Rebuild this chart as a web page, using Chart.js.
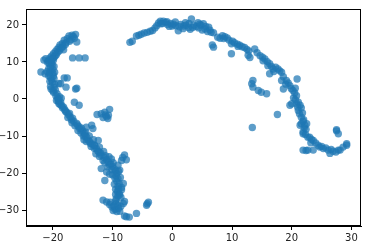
<!DOCTYPE html>
<html>
<head>
<meta charset="utf-8">
<script src="https://cdn.jsdelivr.net/npm/chart.js@4"></script>
<style>
    html, body { margin: 0; padding: 0; background: #fff; }
    #wrap { width: 374px; height: 252px; }
</style>
</head>
<body>
<div id="wrap"><canvas id="scatterChart"></canvas></div>
<script>
// nilai (perkiraan)
const xTicks = [-20, -10, 0, 10, 20, 30];
const yTicks = [-30, -20, -10, 0, 10, 20];

const leftArm = [
    [-16.2,17.4],[-16.8,17.2],[-17.3,17.0],[-16.0,15.4],[-16.4,16.4],[-17.0,16.0],[-17.6,16.3],[-18.1,15.9],
    [-17.8,15.2],[-18.4,15.0],[-18.8,14.6],[-18.3,14.2],[-19.0,13.9],[-19.3,13.4],[-18.9,13.0],[-18.2,13.3],
    [-19.6,12.8],[-19.9,12.2],[-19.4,12.0],[-20.2,11.6],[-20.5,11.1],[-19.8,11.3],[-21.5,10.5],[-21.2,10.9],
    [-20.8,10.3],[-20.3,10.0],[-19.9,10.5],[-20.6,9.5],[-20.1,9.2],[-20.4,8.6],[-19.8,8.8],[-22.0,7.3],
    [-21.3,6.8],[-21.0,7.4],[-20.3,7.6],[-20.0,6.9],[-20.4,5.9],[-19.9,6.2],[-20.2,5.2],[-20.1,4.5],
    [-19.7,4.0],[-20.4,3.4],[-20.3,2.7],[-19.6,2.5],[-19.9,1.8],[-19.5,0.9],[-19.2,0.2],[-19.4,-0.4],
    [-18.9,0.6],[-19.1,-0.6],[-18.7,-0.9],[-18.6,0.2],[-19.0,-1.2],[-18.5,-1.8],[-18.4,-2.4],[-18.0,-2.9],
    [-17.7,-3.6],[-17.4,-4.2],[-17.1,-4.8],[-16.9,-5.6],[-16.5,-6.0],[-16.0,-6.6],[-16.3,-7.2],[-15.6,-7.5],
    [-15.5,-8.0],[-15.8,-8.5],[-15.0,-8.6],[-14.7,-9.3],[-14.5,-9.0],[-14.9,-10.0],[-14.3,-10.4],[-13.9,-10.0],
    [-14.1,-11.1],[-14.8,-11.0],[-13.2,-11.0],[-13.8,-11.6],[-13.4,-12.2],[-13.6,-12.8],[-13.0,-12.6],[-12.2,-13.0],
    [-12.7,-13.4],[-12.5,-14.0],[-11.5,-14.2],[-12.8,-14.8],[-12.0,-14.6],[-11.9,-15.2],[-11.4,-15.8],[-10.6,-15.6],
    [-11.6,-16.6],[-10.2,-16.2],[-11.0,-16.4],[-10.7,-17.0],[-9.9,-17.2],[-10.3,-17.6],[-10.8,-18.4],[-10.0,-18.2],
    [-9.7,-18.8],[-9.0,-19.6],[-9.5,-19.4],[-9.3,-20.1],[-10.0,-20.5],[-9.4,-20.8],[-8.7,-21.2],[-9.1,-21.5],
    [-9.3,-22.2],[-9.7,-23.0],[-8.9,-22.9],[-9.1,-23.6],[-8.5,-23.9],[-9.0,-24.3],[-9.2,-25.0],[-8.9,-25.6],
    [-9.5,-25.8],[-9.1,-26.2],[-8.6,-26.6],[-9.4,-27.0]
];

// titik tambahan di bagian pita yang paling padat
const leftArmDense = [
    [-16.6,16.9],[-17.2,15.6],[-17.9,14.7],[-18.6,13.7],[-19.2,12.6],[-19.6,11.6],[-20.0,10.9],[-20.4,10.6],
    [-20.9,9.9],[-20.2,9.8],[-20.7,8.2],[-20.0,8.0],[-20.6,7.0],[-19.7,7.2],[-20.7,6.3],[-19.8,5.5],
    [-20.5,4.8],[-19.8,3.2],[-20.0,2.2],[-19.3,1.4],[-19.0,-0.2],[-18.8,-1.5],[-18.2,-2.2],[-17.9,-3.3],
    [-17.2,-3.9],[-17.5,-5.0],[-16.7,-5.2],[-16.8,-6.4],[-15.9,-7.0],[-15.2,-7.9],[-15.3,-9.2],[-14.6,-9.9],
    [-14.4,-11.5],[-13.7,-12.0],[-13.1,-13.3],[-12.3,-14.3],[-12.2,-15.5],[-11.2,-15.3],[-11.3,-17.2],[-10.5,-17.8],
    [-10.1,-19.1],[-9.6,-21.4],[-9.5,-24.4],[-9.4,-28.2],[-10.4,-27.9],[-9.9,-30.1]
];

const leftSide = [
    [-16.7,11.1],[-15.6,11.1],[-14.6,11.1],[-18.1,5.7],[-17.6,5.7],[-18.7,4.1],[-17.8,3.2],[-16.2,2.7],
    [-16.0,2.9],[-16.4,-0.9],[-15.6,-1.7],[-19.0,4.2],
    [-13.5,-7.1],[-13.3,-8.0],[-14.4,-7.6],[-12.4,-11.2],[-13.0,-12.5],
    [-8.0,-15.1],[-7.7,-16.4],[-8.5,-16.6],[-8.3,-15.8],[-11.9,-18.8],[-11.0,-19.7],[-11.3,-22.0],
    [-10.5,-20.3],[-9.1,-17.9],[-8.8,-19.2],[-8.2,-22.8],[-8.5,-24.5],[-8.8,-25.9]
];

const smallCluster = [
    [-12.6,-4.2],[-11.9,-4.0],[-11.3,-3.6],[-10.5,-2.8],[-10.8,-5.3],[-11.0,-4.8],[-11.6,-5.0],[-10.7,-4.4],
    [-11.2,-4.3]
];

const bottomCluster = [
    [-11.6,-27.3],[-11.0,-27.8],[-10.5,-28.5],[-10.1,-29.2],[-9.6,-29.8],[-9.3,-30.4],[-9.0,-29.5],[-8.6,-29.0],
    [-8.2,-28.2],[-8.0,-27.7],[-9.1,-28.6],[-9.5,-27.6],[-9.8,-28.9],[-8.8,-30.3],
    [-7.7,-31.8],[-7.2,-31.9],[-8.0,-31.6],[-6.0,-30.9],[-4.3,-28.7],[-4.0,-27.9],[-4.2,-28.3]
];

const topArc = [
    [-7.1,15.3],[-6.7,15.6],[-6.0,17.0],[-5.6,17.2],[-5.2,17.5],[-4.7,17.8],[-4.2,18.0],[-3.7,18.3],
    [-3.3,18.5],[-2.9,19.2],[-2.6,19.8],[-2.3,20.5],[-2.0,21.0],[-1.6,20.4],[-1.5,21.0],[-1.1,20.7],
    [-0.8,20.1],[-0.5,19.6],[-0.3,20.4],[0.2,20.2],[0.5,20.8],[0.6,19.8],[1.0,18.4],[1.4,20.1],
    [1.8,19.0],[1.9,19.7],[2.3,19.9],[2.7,19.3],[2.8,20.4],[3.0,18.8],[3.2,21.6],[3.6,19.9],
    [4.0,19.6],[4.3,20.6],[4.4,19.2],[4.8,19.9],[5.0,18.6],[5.2,20.3],[5.5,18.9],[5.9,18.2],
    [6.1,19.4],[6.5,18.0],[6.9,17.9],[6.7,14.6],[6.9,14.0],[7.6,16.7],[8.0,16.4],[8.4,17.1],
    [8.8,16.8],[9.2,16.5],[9.5,15.9],[9.9,14.9],[9.9,12.2],[10.4,15.2],[10.9,14.8],[11.3,14.5],
    [11.7,14.1],[12.1,13.9],[12.5,13.4],[12.8,13.0],[12.7,11.8],[13.0,11.2],
    [-1.9,20.3],[-0.9,20.9],[0.0,19.7],[1.2,19.5],[2.2,20.6],[3.4,19.3],[4.6,20.2],[5.6,19.6],
    [6.3,18.6],[8.6,16.3],[10.1,15.6],[11.0,14.2]
];

const rightArm = [
    [13.8,13.5],[14.2,12.5],[14.7,11.7],[15.1,11.3],[15.5,10.8],[15.9,10.1],[16.3,9.5],[16.6,8.8],
    [16.9,8.1],[17.3,8.6],[17.7,8.1],[18.0,7.6],[18.3,7.2],[16.3,6.8],[18.6,6.0],[18.3,5.0],
    [19.1,5.0],[19.4,4.3],[19.7,3.6],[20.9,5.4],[18.6,2.7],[19.9,2.8],[20.2,2.3],[20.5,1.6],
    [20.8,0.9],[20.3,0.3],[21.1,-0.9],[20.0,-1.3],[21.4,-1.7],[19.7,-1.7],[20.8,-1.3],[21.1,-3.1],
    [21.6,-2.4],[21.6,-4.9],[21.3,-4.0],[22.0,-5.6],[21.6,-6.7],[22.5,-6.7],[21.4,-7.1],[22.2,-7.1],
    [21.9,-8.9],[21.9,-9.4],[22.4,-8.2],[22.7,-10.3],[23.0,-10.3],[23.6,-11.2],[23.2,-11.8],[24.0,-11.9],
    [24.4,-12.5],[24.7,-13.0],[25.3,-13.4],[25.7,-13.2],[26.1,-13.8],[26.4,-14.7],[26.9,-14.1],[27.4,-14.3],
    [27.8,-13.8],[28.1,-13.8],[28.6,-13.0],[29.2,-12.1],[29.2,-12.5],[21.9,-13.8],[22.4,-13.9],[22.7,-13.8],
    [23.6,-13.8],[27.5,-8.3],[27.8,-9.4],[27.5,-8.6],
    [15.2,10.3],[16.0,9.0],[17.0,7.4],[19.0,4.0],[20.6,2.9],[20.6,-0.2],[21.0,-2.2],[21.8,-3.8],
    [21.9,-6.0],[22.1,-7.8],[22.3,-9.6],[23.3,-10.9],[25.0,-12.8],[26.6,-13.6]
];

const rightSide = [
    [17.6,-4.2],[13.4,-7.7],
    [13.5,5.0],[13.3,4.1],[13.5,3.2],[14.4,2.3],[14.9,1.8],[15.8,1.4]
];

const allPoints = [...leftArm, ...leftArmDense, ...leftSide, ...smallCluster, ...bottomCluster,
    ...topArc, ...rightArm, ...rightSide].map(([x, y]) => ({ x, y }));

// kotak penuh di sekeliling area plot (spine atas & kanan)
const framePlugin = {
    id: 'frame',
    afterDraw(chart) {
        const { ctx, chartArea: a } = chart;
        ctx.save();
        ctx.strokeStyle = '#000';
        ctx.lineWidth = 1;
        ctx.strokeRect(a.left + 0.5, a.top + 0.5, a.right - a.left - 1, a.bottom - a.top - 1);
        ctx.restore();
    }
};

const fmt = v => String(v).replace('-', '\u2212');
const tickFont = { family: 'DejaVu Sans', size: 10 };

new Chart(document.getElementById('scatterChart').getContext('2d'), {
    type: 'scatter',
    data: {
        datasets: [{
            data: allPoints,
            backgroundColor: 'rgba(31, 119, 180, 0.72)',
            borderWidth: 0,
            pointRadius: 3.7,
            pointHoverRadius: 3.7
        }]
    },
    options: {
        responsive: true,
        maintainAspectRatio: false,
        animation: false,
        events: [],
        layout: { padding: { top: 8, right: 13, left: 0, bottom: 0 } },
        plugins: { legend: { display: false }, tooltip: { enabled: false } },
        scales: {
            x: {
                type: 'linear',
                min: -24.5,
                max: 31.6,
                afterBuildTicks: axis => { axis.ticks = xTicks.map(v => ({ value: v })); },
                afterFit: axis => { axis.height = 26; },
                grid: { drawOnChartArea: false, drawTicks: true, tickLength: 4, color: '#000' },
                border: { display: true, color: '#000', width: 1 },
                ticks: { color: '#222', font: tickFont, padding: 2, maxRotation: 0, callback: fmt }
            },
            y: {
                type: 'linear',
                min: -34.3,
                max: 24.3,
                afterBuildTicks: axis => { axis.ticks = yTicks.map(v => ({ value: v })); },
                afterFit: axis => { axis.width = 26; },
                grid: { drawOnChartArea: false, drawTicks: true, tickLength: 4, color: '#000' },
                border: { display: true, color: '#000', width: 1 },
                ticks: { color: '#222', font: tickFont, padding: 3, callback: fmt }
            }
        }
    },
    plugins: [framePlugin]
});
</script>
</body>
</html>
